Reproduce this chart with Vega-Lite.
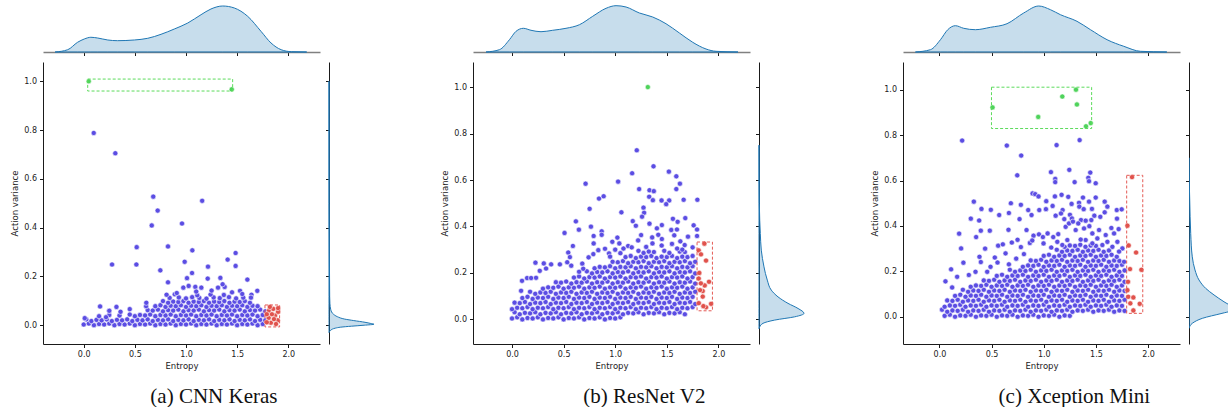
{
  "$schema": "https://vega.github.io/schema/vega-lite/v6.json",
  "background": "white",
  "padding": {"left": 10, "top": 2, "right": 0, "bottom": 0},
  "config": {
    "view": {"stroke": null},
    "font": "DejaVu Sans",
    "axis": {
      "grid": false,
      "domainColor": "#1a1a1a", "domainWidth": 1,
      "tickColor": "#1a1a1a", "tickWidth": 1, "tickSize": 3.5,
      "labelFont": "DejaVu Sans", "labelFontSize": 8, "labelColor": "#222222", "labelPadding": 3, "labelFlush": false,
      "titleFont": "DejaVu Sans", "titleFontSize": 8.5, "titleFontWeight": "normal", "titleColor": "#222222"
    },
    "title": {"font": "Liberation Serif", "fontSize": 21, "fontWeight": "normal", "color": "#111111"}
  },
  "datasets": {
    "cnn": [
      {"e":0,"v":0.003},{"e":0.05,"v":0.007},{"e":0.1,"v":0},{"e":0.15,"v":0.005},{"e":0.2,"v":0.003},{"e":0.25,"v":0.007},{"e":0.3,"v":0},{"e":0.35,"v":0.005},{"e":0.4,"v":0.003},{"e":0.45,"v":0.007},{"e":0.5,"v":0},{"e":0.55,"v":0.005},{"e":0.6,"v":0.003},{"e":0.65,"v":0.007},{"e":0.7,"v":0},{"e":0.75,"v":0.005},{"e":0.8,"v":0.003},{"e":0.85,"v":0.007},{"e":0.9,"v":0},{"e":0.95,"v":0.005},{"e":1,"v":0.003},{"e":1.05,"v":0.007},{"e":1.1,"v":0},{"e":1.15,"v":0.005},{"e":1.2,"v":0.003},{"e":1.25,"v":0.007},{"e":1.3,"v":0},{"e":1.35,"v":0.005},{"e":1.4,"v":0.003},{"e":1.45,"v":0.007},{"e":1.5,"v":0},{"e":1.55,"v":0.005},{"e":1.6,"v":0.003},{"e":1.65,"v":0.007},{"e":1.7,"v":0},{"e":1.75,"v":0.005},
      {"e":0.025,"v":0.024},{"e":0.075,"v":0.017},{"e":0.125,"v":0.022},{"e":0.175,"v":0.02},{"e":0.225,"v":0.024},{"e":0.275,"v":0.017},{"e":0.325,"v":0.022},{"e":0.375,"v":0.02},{"e":0.425,"v":0.024},{"e":0.475,"v":0.017},{"e":0.525,"v":0.022},{"e":0.575,"v":0.02},{"e":0.625,"v":0.024},{"e":0.675,"v":0.017},{"e":0.725,"v":0.022},{"e":0.775,"v":0.02},{"e":0.825,"v":0.024},{"e":0.875,"v":0.017},{"e":0.925,"v":0.022},{"e":0.975,"v":0.02},{"e":1.025,"v":0.024},{"e":1.075,"v":0.017},{"e":1.125,"v":0.022},{"e":1.175,"v":0.02},{"e":1.225,"v":0.024},{"e":1.275,"v":0.017},{"e":1.325,"v":0.022},{"e":1.375,"v":0.02},{"e":1.425,"v":0.024},{"e":1.475,"v":0.017},{"e":1.525,"v":0.022},{"e":1.575,"v":0.02},{"e":1.625,"v":0.024},{"e":1.675,"v":0.017},{"e":1.725,"v":0.022},{"e":1.775,"v":0.02},
      {"e":0.15,"v":0.037},{"e":0.25,"v":0.042},{"e":0.35,"v":0.04},{"e":0.45,"v":0.044},{"e":0.5,"v":0.037},{"e":0.55,"v":0.042},{"e":0.6,"v":0.04},{"e":0.65,"v":0.044},{"e":0.7,"v":0.037},{"e":0.75,"v":0.042},{"e":0.8,"v":0.04},{"e":0.85,"v":0.044},{"e":0.9,"v":0.037},{"e":0.95,"v":0.042},{"e":1,"v":0.04},{"e":1.05,"v":0.044},{"e":1.1,"v":0.037},{"e":1.15,"v":0.042},{"e":1.2,"v":0.04},{"e":1.25,"v":0.044},{"e":1.3,"v":0.037},{"e":1.35,"v":0.042},{"e":1.4,"v":0.04},{"e":1.45,"v":0.044},{"e":1.5,"v":0.037},{"e":1.55,"v":0.042},{"e":1.6,"v":0.04},{"e":1.65,"v":0.044},{"e":1.7,"v":0.037},{"e":1.75,"v":0.042},
      {"e":0.25,"v":0.06},{"e":0.36,"v":0.055},{"e":0.625,"v":0.062},{"e":0.675,"v":0.06},{"e":0.725,"v":0.064},{"e":0.775,"v":0.057},{"e":0.825,"v":0.062},{"e":0.875,"v":0.06},{"e":0.925,"v":0.064},{"e":0.975,"v":0.057},{"e":1.025,"v":0.062},{"e":1.075,"v":0.06},{"e":1.125,"v":0.064},{"e":1.175,"v":0.057},{"e":1.225,"v":0.062},{"e":1.275,"v":0.06},{"e":1.325,"v":0.064},{"e":1.375,"v":0.057},{"e":1.425,"v":0.062},{"e":1.475,"v":0.06},{"e":1.525,"v":0.064},{"e":1.575,"v":0.057},{"e":1.625,"v":0.062},{"e":1.675,"v":0.06},{"e":1.725,"v":0.064},{"e":1.775,"v":0.057},
      {"e":0.16,"v":0.077},{"e":0.32,"v":0.075},{"e":0.45,"v":0.066},{"e":0.61,"v":0.078},{"e":0.7,"v":0.078},{"e":0.75,"v":0.082},{"e":0.8,"v":0.075},{"e":0.85,"v":0.08},{"e":0.9,"v":0.078},{"e":0.95,"v":0.082},{"e":1,"v":0.075},{"e":1.05,"v":0.08},{"e":1.1,"v":0.078},{"e":1.15,"v":0.082},{"e":1.2,"v":0.075},{"e":1.25,"v":0.08},{"e":1.3,"v":0.078},{"e":1.35,"v":0.082},{"e":1.4,"v":0.075},{"e":1.45,"v":0.08},{"e":1.5,"v":0.078},{"e":1.55,"v":0.082},{"e":1.6,"v":0.075},{"e":1.65,"v":0.08},{"e":1.7,"v":0.078},
      {"e":0.775,"v":0.099},{"e":0.825,"v":0.092},{"e":0.875,"v":0.097},{"e":0.925,"v":0.095},{"e":0.975,"v":0.099},{"e":1.025,"v":0.092},{"e":1.075,"v":0.097},{"e":1.125,"v":0.095},{"e":1.175,"v":0.099},{"e":1.225,"v":0.092},{"e":1.275,"v":0.097},{"e":1.325,"v":0.095},{"e":1.375,"v":0.099},{"e":1.425,"v":0.092},{"e":1.475,"v":0.097},{"e":1.525,"v":0.095},{"e":1.575,"v":0.099},{"e":1.625,"v":0.092},
      {"e":0.84,"v":0.112},{"e":0.93,"v":0.114},{"e":1,"v":0.11},{"e":1.06,"v":0.115},{"e":1.13,"v":0.112},{"e":1.2,"v":0.109},{"e":1.27,"v":0.114},{"e":1.33,"v":0.111},{"e":1.42,"v":0.115},{"e":1.49,"v":0.11},{"e":1.56,"v":0.113},
      {"e":0.81,"v":0.125},{"e":0.89,"v":0.127},{"e":1.11,"v":0.123},{"e":1.24,"v":0.126},{"e":1.37,"v":0.124},{"e":1.64,"v":0.125},
      {"e":0.098,"v":0.788},{"e":0.309,"v":0.705},{"e":0.68,"v":0.527},{"e":1.158,"v":0.51},{"e":0.723,"v":0.47},{"e":0.665,"v":0.409},{"e":0.961,"v":0.417},{"e":0.518,"v":0.32},{"e":0.824,"v":0.323},{"e":1.062,"v":0.307},{"e":0.277,"v":0.249},{"e":0.515,"v":0.249},{"e":0.987,"v":0.26},{"e":1.485,"v":0.296},{"e":1.407,"v":0.269},{"e":0.749,"v":0.225},{"e":1.215,"v":0.24},{"e":1.485,"v":0.243},{"e":1.059,"v":0.214},{"e":1.01,"v":0.193},{"e":1.212,"v":0.191},{"e":0.824,"v":0.176},{"e":1.336,"v":0.194},{"e":1.6,"v":0.187},{"e":0.974,"v":0.154},{"e":1.026,"v":0.161},{"e":1.091,"v":0.157},{"e":1.15,"v":0.154},{"e":1.313,"v":0.154},{"e":1.378,"v":0.157},{"e":1.358,"v":0.168},{"e":1.528,"v":0.141},{"e":1.697,"v":0.141},{"e":1.635,"v":0.113},{"e":1.25,"v":0.142},{"e":1.45,"v":0.135},{"e":1.55,"v":0.128},{"e":1.1,"v":0.138},{"e":0.91,"v":0.132},{"e":0.612,"v":0.092},{"e":0.01,"v":0.029},{"e":0.218,"v":0.033},{"e":0.25,"v":0.059}
    ],
    "cnnFlag": [
      {"e":0.049,"v":1.0,"kind":"variance"},{"e":1.447,"v":0.967,"kind":"variance"},
      {"e":1.81,"v":0.059,"kind":"entropy"},{"e":1.853,"v":0.067,"kind":"entropy"},{"e":1.808,"v":0.03,"kind":"entropy"},{"e":1.896,"v":0.02,"kind":"entropy"},{"e":1.83,"v":0.01,"kind":"entropy"},{"e":1.87,"v":0.04,"kind":"entropy"},{"e":1.9,"v":0.055,"kind":"entropy"},{"e":1.84,"v":0.045,"kind":"entropy"},{"e":1.79,"v":0.012,"kind":"entropy"},{"e":1.88,"v":0.005,"kind":"entropy"},{"e":1.82,"v":0.075,"kind":"entropy"},{"e":1.86,"v":0.025,"kind":"entropy"},{"e":1.79,"v":0.045,"kind":"entropy"},{"e":1.9,"v":0.07,"kind":"entropy"}
    ],
    "cnnBox": [
      {"kind":"variance","e":0.039,"e2":1.456,"v":0.96,"v2":1.009},
      {"kind":"entropy","e":1.772,"e2":1.915,"v":-0.007,"v2":0.083}
    ],
    "cnnTop": [
      {"e":-0.28,"d":0},{"e":-0.156,"d":0.05},{"e":-0.06,"d":0.211},{"e":0.006,"d":0.283},{"e":0.07,"d":0.32},{"e":0.137,"d":0.304},{"e":0.235,"d":0.261},{"e":0.33,"d":0.246},{"e":0.495,"d":0.261},{"e":0.626,"d":0.298},{"e":0.756,"d":0.385},{"e":0.886,"d":0.5},{"e":1.017,"d":0.63},{"e":1.147,"d":0.811},{"e":1.244,"d":0.935},{"e":1.359,"d":1},{"e":1.472,"d":0.957},{"e":1.603,"d":0.776},{"e":1.733,"d":0.45},{"e":1.831,"d":0.196},{"e":1.93,"d":0.05},{"e":2.03,"d":0.007},{"e":2.18,"d":0}
    ],
    "cnnSide": [
      {"v":-0.03,"d":0},{"v":-0.022,"d":0.03},{"v":-0.016,"d":0.075},{"v":-0.012,"d":0.14},{"v":-0.008,"d":0.26},{"v":-0.004,"d":0.5},{"v":0,"d":0.78},{"v":0.004,"d":1},{"v":0.007,"d":0.93},{"v":0.012,"d":0.8},{"v":0.019,"d":0.55},{"v":0.025,"d":0.35},{"v":0.035,"d":0.185},{"v":0.045,"d":0.1},{"v":0.063,"d":0.04},{"v":0.09,"d":0.02},{"v":0.117,"d":0.015},{"v":0.3,"d":0.008},{"v":0.5,"d":0.003},{"v":1,"d":0}
    ],
    "res": [
      {"e":0,"v":0.004},{"e":0.05,"v":0.009},{"e":0.1,"v":0},{"e":0.15,"v":0.006},{"e":0.2,"v":0.004},{"e":0.25,"v":0.009},{"e":0.3,"v":0},{"e":0.35,"v":0.006},{"e":0.4,"v":0.004},{"e":0.45,"v":0.009},{"e":0.5,"v":0},{"e":0.55,"v":0.006},{"e":0.6,"v":0.004},{"e":0.65,"v":0.009},{"e":0.7,"v":0},{"e":0.75,"v":0.006},{"e":0.8,"v":0.004},{"e":0.85,"v":0.009},{"e":0.9,"v":0},{"e":0.95,"v":0.006},{"e":1,"v":0.004},{"e":1.05,"v":0.009},
      {"e":0.025,"v":0.031},{"e":0.075,"v":0.022},{"e":0.125,"v":0.028},{"e":0.175,"v":0.026},{"e":0.225,"v":0.031},{"e":0.275,"v":0.022},{"e":0.325,"v":0.028},{"e":0.375,"v":0.026},{"e":0.425,"v":0.031},{"e":0.475,"v":0.022},{"e":0.525,"v":0.028},{"e":0.575,"v":0.026},{"e":0.625,"v":0.031},{"e":0.675,"v":0.022},{"e":0.725,"v":0.028},{"e":0.775,"v":0.026},{"e":0.825,"v":0.031},{"e":0.875,"v":0.022},{"e":0.925,"v":0.028},{"e":0.975,"v":0.026},{"e":1.025,"v":0.031},{"e":1.075,"v":0.022},{"e":1.125,"v":0.028},{"e":1.175,"v":0.026},{"e":1.225,"v":0.031},{"e":1.275,"v":0.022},{"e":1.325,"v":0.028},{"e":1.375,"v":0.026},{"e":1.425,"v":0.031},{"e":1.475,"v":0.022},{"e":1.525,"v":0.028},{"e":1.575,"v":0.026},{"e":1.625,"v":0.031},{"e":1.675,"v":0.022},
      {"e":0,"v":0.044},{"e":0.05,"v":0.05},{"e":0.1,"v":0.048},{"e":0.15,"v":0.053},{"e":0.2,"v":0.044},{"e":0.25,"v":0.05},{"e":0.3,"v":0.048},{"e":0.35,"v":0.053},{"e":0.4,"v":0.044},{"e":0.45,"v":0.05},{"e":0.5,"v":0.048},{"e":0.55,"v":0.053},{"e":0.6,"v":0.044},{"e":0.65,"v":0.05},{"e":0.7,"v":0.048},{"e":0.75,"v":0.053},{"e":0.8,"v":0.044},{"e":0.85,"v":0.05},{"e":0.9,"v":0.048},{"e":0.95,"v":0.053},{"e":1,"v":0.044},{"e":1.05,"v":0.05},{"e":1.1,"v":0.048},{"e":1.15,"v":0.053},{"e":1.2,"v":0.044},{"e":1.25,"v":0.05},{"e":1.3,"v":0.048},{"e":1.35,"v":0.053},{"e":1.4,"v":0.044},{"e":1.45,"v":0.05},{"e":1.5,"v":0.048},{"e":1.55,"v":0.053},{"e":1.6,"v":0.044},{"e":1.65,"v":0.05},{"e":1.7,"v":0.048},{"e":1.75,"v":0.053},
      {"e":0.025,"v":0.072},{"e":0.075,"v":0.07},{"e":0.125,"v":0.075},{"e":0.175,"v":0.066},{"e":0.225,"v":0.072},{"e":0.275,"v":0.07},{"e":0.325,"v":0.075},{"e":0.375,"v":0.066},{"e":0.425,"v":0.072},{"e":0.475,"v":0.07},{"e":0.525,"v":0.075},{"e":0.575,"v":0.066},{"e":0.625,"v":0.072},{"e":0.675,"v":0.07},{"e":0.725,"v":0.075},{"e":0.775,"v":0.066},{"e":0.825,"v":0.072},{"e":0.875,"v":0.07},{"e":0.925,"v":0.075},{"e":0.975,"v":0.066},{"e":1.025,"v":0.072},{"e":1.075,"v":0.07},{"e":1.125,"v":0.075},{"e":1.175,"v":0.066},{"e":1.225,"v":0.072},{"e":1.275,"v":0.07},{"e":1.325,"v":0.075},{"e":1.375,"v":0.066},{"e":1.425,"v":0.072},{"e":1.475,"v":0.07},{"e":1.525,"v":0.075},{"e":1.575,"v":0.066},{"e":1.625,"v":0.072},{"e":1.675,"v":0.07},{"e":1.725,"v":0.075},{"e":1.775,"v":0.066},
      {"e":0.1,"v":0.092},{"e":0.15,"v":0.097},{"e":0.2,"v":0.088},{"e":0.25,"v":0.094},{"e":0.3,"v":0.092},{"e":0.35,"v":0.097},{"e":0.4,"v":0.088},{"e":0.45,"v":0.094},{"e":0.5,"v":0.092},{"e":0.55,"v":0.097},{"e":0.6,"v":0.088},{"e":0.65,"v":0.094},{"e":0.7,"v":0.092},{"e":0.75,"v":0.097},{"e":0.8,"v":0.088},{"e":0.85,"v":0.094},{"e":0.9,"v":0.092},{"e":0.95,"v":0.097},{"e":1,"v":0.088},{"e":1.05,"v":0.094},{"e":1.1,"v":0.092},{"e":1.15,"v":0.097},{"e":1.2,"v":0.088},{"e":1.25,"v":0.094},{"e":1.3,"v":0.092},{"e":1.35,"v":0.097},{"e":1.4,"v":0.088},{"e":1.45,"v":0.094},{"e":1.5,"v":0.092},{"e":1.55,"v":0.097},{"e":1.6,"v":0.088},{"e":1.65,"v":0.094},{"e":1.7,"v":0.092},{"e":1.75,"v":0.097},
      {"e":0.175,"v":0.119},{"e":0.225,"v":0.11},{"e":0.275,"v":0.116},{"e":0.325,"v":0.114},{"e":0.375,"v":0.119},{"e":0.425,"v":0.11},{"e":0.475,"v":0.116},{"e":0.525,"v":0.114},{"e":0.575,"v":0.119},{"e":0.625,"v":0.11},{"e":0.675,"v":0.116},{"e":0.725,"v":0.114},{"e":0.775,"v":0.119},{"e":0.825,"v":0.11},{"e":0.875,"v":0.116},{"e":0.925,"v":0.114},{"e":0.975,"v":0.119},{"e":1.025,"v":0.11},{"e":1.075,"v":0.116},{"e":1.125,"v":0.114},{"e":1.175,"v":0.119},{"e":1.225,"v":0.11},{"e":1.275,"v":0.116},{"e":1.325,"v":0.114},{"e":1.375,"v":0.119},{"e":1.425,"v":0.11},{"e":1.475,"v":0.116},{"e":1.525,"v":0.114},{"e":1.575,"v":0.119},{"e":1.625,"v":0.11},{"e":1.675,"v":0.116},{"e":1.725,"v":0.114},{"e":1.775,"v":0.119},
      {"e":0.3,"v":0.132},{"e":0.35,"v":0.138},{"e":0.4,"v":0.136},{"e":0.45,"v":0.141},{"e":0.5,"v":0.132},{"e":0.55,"v":0.138},{"e":0.6,"v":0.136},{"e":0.65,"v":0.141},{"e":0.7,"v":0.132},{"e":0.75,"v":0.138},{"e":0.8,"v":0.136},{"e":0.85,"v":0.141},{"e":0.9,"v":0.132},{"e":0.95,"v":0.138},{"e":1,"v":0.136},{"e":1.05,"v":0.141},{"e":1.1,"v":0.132},{"e":1.15,"v":0.138},{"e":1.2,"v":0.136},{"e":1.25,"v":0.141},{"e":1.3,"v":0.132},{"e":1.35,"v":0.138},{"e":1.4,"v":0.136},{"e":1.45,"v":0.141},{"e":1.5,"v":0.132},{"e":1.55,"v":0.138},{"e":1.6,"v":0.136},{"e":1.65,"v":0.141},{"e":1.7,"v":0.132},{"e":1.75,"v":0.138},
      {"e":0.425,"v":0.16},{"e":0.475,"v":0.158},{"e":0.525,"v":0.163},{"e":0.575,"v":0.154},{"e":0.625,"v":0.16},{"e":0.675,"v":0.158},{"e":0.725,"v":0.163},{"e":0.775,"v":0.154},{"e":0.825,"v":0.16},{"e":0.875,"v":0.158},{"e":0.925,"v":0.163},{"e":0.975,"v":0.154},{"e":1.025,"v":0.16},{"e":1.075,"v":0.158},{"e":1.125,"v":0.163},{"e":1.175,"v":0.154},{"e":1.225,"v":0.16},{"e":1.275,"v":0.158},{"e":1.325,"v":0.163},{"e":1.375,"v":0.154},{"e":1.425,"v":0.16},{"e":1.475,"v":0.158},{"e":1.525,"v":0.163},{"e":1.575,"v":0.154},{"e":1.625,"v":0.16},{"e":1.675,"v":0.158},{"e":1.725,"v":0.163},{"e":1.775,"v":0.154},
      {"e":0.6,"v":0.18},{"e":0.65,"v":0.185},{"e":0.7,"v":0.176},{"e":0.75,"v":0.182},{"e":0.8,"v":0.18},{"e":0.85,"v":0.185},{"e":0.9,"v":0.176},{"e":0.95,"v":0.182},{"e":1,"v":0.18},{"e":1.05,"v":0.185},{"e":1.1,"v":0.176},{"e":1.15,"v":0.182},{"e":1.2,"v":0.18},{"e":1.25,"v":0.185},{"e":1.3,"v":0.176},{"e":1.35,"v":0.182},{"e":1.4,"v":0.18},{"e":1.45,"v":0.185},{"e":1.5,"v":0.176},{"e":1.55,"v":0.182},{"e":1.6,"v":0.18},{"e":1.65,"v":0.185},{"e":1.7,"v":0.176},{"e":1.75,"v":0.182},
      {"e":0.725,"v":0.207},{"e":0.775,"v":0.198},{"e":0.825,"v":0.204},{"e":0.875,"v":0.202},{"e":0.925,"v":0.207},{"e":0.975,"v":0.198},{"e":1.025,"v":0.204},{"e":1.075,"v":0.202},{"e":1.125,"v":0.207},{"e":1.175,"v":0.198},{"e":1.225,"v":0.204},{"e":1.275,"v":0.202},{"e":1.325,"v":0.207},{"e":1.375,"v":0.198},{"e":1.425,"v":0.204},{"e":1.475,"v":0.202},{"e":1.525,"v":0.207},{"e":1.575,"v":0.198},{"e":1.625,"v":0.204},{"e":1.675,"v":0.202},{"e":1.725,"v":0.207},{"e":1.775,"v":0.198},
      {"e":0.8,"v":0.22},{"e":0.85,"v":0.226},{"e":0.9,"v":0.224},{"e":0.95,"v":0.229},{"e":1,"v":0.22},{"e":1.05,"v":0.226},{"e":1.1,"v":0.224},{"e":1.15,"v":0.229},{"e":1.2,"v":0.22},{"e":1.25,"v":0.226},{"e":1.3,"v":0.224},{"e":1.35,"v":0.229},{"e":1.4,"v":0.22},{"e":1.45,"v":0.226},{"e":1.5,"v":0.224},{"e":1.55,"v":0.229},{"e":1.6,"v":0.22},{"e":1.65,"v":0.226},{"e":1.7,"v":0.224},{"e":1.75,"v":0.229},
      {"e":0.975,"v":0.248},{"e":1.025,"v":0.246},{"e":1.075,"v":0.251},{"e":1.125,"v":0.242},{"e":1.175,"v":0.248},{"e":1.225,"v":0.246},{"e":1.275,"v":0.251},{"e":1.325,"v":0.242},{"e":1.375,"v":0.248},{"e":1.425,"v":0.246},{"e":1.475,"v":0.251},{"e":1.525,"v":0.242},{"e":1.575,"v":0.248},{"e":1.625,"v":0.246},{"e":1.675,"v":0.251},{"e":1.725,"v":0.242},{"e":1.775,"v":0.248},
      {"e":1.1,"v":0.268},{"e":1.15,"v":0.273},{"e":1.2,"v":0.264},{"e":1.25,"v":0.27},{"e":1.3,"v":0.268},{"e":1.35,"v":0.273},{"e":1.4,"v":0.264},{"e":1.45,"v":0.27},{"e":1.5,"v":0.268},{"e":1.55,"v":0.273},{"e":1.6,"v":0.264},{"e":1.65,"v":0.27},{"e":1.7,"v":0.268},{"e":1.75,"v":0.273},
      {"e":1.225,"v":0.295},{"e":1.275,"v":0.286},{"e":1.325,"v":0.292},{"e":1.375,"v":0.29},{"e":1.475,"v":0.295},{"e":1.525,"v":0.286},{"e":1.625,"v":0.292},{"e":1.675,"v":0.29},
      {"e":1.209,"v":0.728},{"e":1.371,"v":0.659},{"e":1.52,"v":0.636},{"e":1.592,"v":0.616},{"e":1.164,"v":0.629},{"e":0.713,"v":0.584},{"e":1.028,"v":0.593},{"e":1.627,"v":0.584},{"e":1.232,"v":0.561},{"e":1.332,"v":0.556},{"e":1.374,"v":0.552},{"e":1.592,"v":0.561},{"e":1.329,"v":0.528},{"e":0.843,"v":0.52},{"e":0.888,"v":0.53},{"e":1.365,"v":0.513},{"e":1.449,"v":0.512},{"e":1.523,"v":0.512},{"e":1.494,"v":0.496},{"e":1.663,"v":0.515},{"e":1.796,"v":0.515},{"e":1.274,"v":0.481},{"e":0.752,"v":0.476},{"e":1.06,"v":0.461},{"e":1.28,"v":0.459},{"e":1.26,"v":0.442},{"e":0.619,"v":0.422},{"e":0.509,"v":0.372},{"e":0.648,"v":0.386},{"e":0.765,"v":0.399},{"e":0.869,"v":0.379},{"e":0.869,"v":0.364},{"e":0.791,"v":0.359},{"e":0.791,"v":0.327},{"e":0.59,"v":0.316},{"e":1.17,"v":0.423},{"e":1.2,"v":0.403},{"e":1.332,"v":0.412},{"e":1.452,"v":0.406},{"e":1.559,"v":0.433},{"e":1.679,"v":0.436},{"e":1.605,"v":0.42},{"e":1.543,"v":0.385},{"e":1.598,"v":0.387},{"e":1.76,"v":0.405},{"e":1.793,"v":0.387},{"e":1.793,"v":0.359},{"e":1.404,"v":0.392},{"e":1.417,"v":0.364},{"e":1.358,"v":0.353},{"e":1.361,"v":0.327},{"e":1.452,"v":0.346},{"e":1.251,"v":0.363},{"e":1.222,"v":0.34},{"e":1.572,"v":0.362},{"e":1.631,"v":0.336},{"e":1.705,"v":0.356},{"e":1.673,"v":0.32},{"e":0.972,"v":0.334},{"e":1.021,"v":0.352},{"e":1.04,"v":0.327},{"e":1.125,"v":0.316},{"e":1.08,"v":0.305},{"e":1.16,"v":0.31},{"e":0.545,"v":0.288},{"e":0.535,"v":0.246},{"e":0.574,"v":0.231},{"e":0.561,"v":0.268},{"e":0.681,"v":0.24},{"e":0.836,"v":0.298},{"e":0.742,"v":0.267},{"e":0.788,"v":0.281},{"e":0.901,"v":0.304},{"e":0.94,"v":0.284},{"e":0.227,"v":0.244},{"e":0.308,"v":0.241},{"e":0.379,"v":0.237},{"e":0.464,"v":0.237},{"e":0.269,"v":0.209},{"e":0.33,"v":0.219},{"e":0.097,"v":0.166},{"e":0.146,"v":0.178},{"e":0.185,"v":0.178},{"e":0.233,"v":0.179},{"e":0.088,"v":0.123},{"e":0.65,"v":0.205},{"e":0.69,"v":0.218},{"e":1,"v":0.3},{"e":1.3,"v":0.312},{"e":1.45,"v":0.318},{"e":1.55,"v":0.325},{"e":1.6,"v":0.305},{"e":1.75,"v":0.31},{"e":1.65,"v":0.3},{"e":0.95,"v":0.27},{"e":1.05,"v":0.285}
    ],
    "resFlag": [
      {"e":1.316,"v":1.0,"kind":"variance"},
      {"e":1.864,"v":0.326,"kind":"entropy"},{"e":1.809,"v":0.297,"kind":"entropy"},{"e":1.831,"v":0.28,"kind":"entropy"},{"e":1.88,"v":0.253,"kind":"entropy"},{"e":1.815,"v":0.2,"kind":"entropy"},{"e":1.809,"v":0.176,"kind":"entropy"},{"e":1.909,"v":0.162,"kind":"entropy"},{"e":1.867,"v":0.146,"kind":"entropy"},{"e":1.848,"v":0.122,"kind":"entropy"},{"e":1.848,"v":0.098,"kind":"entropy"},{"e":1.929,"v":0.067,"kind":"entropy"},{"e":1.88,"v":0.052,"kind":"entropy"},{"e":1.854,"v":0.057,"kind":"entropy"},{"e":1.822,"v":0.126,"kind":"entropy"},{"e":1.81,"v":0.07,"kind":"entropy"},{"e":1.83,"v":0.155,"kind":"entropy"}
    ],
    "resBox": [
      {"kind":"entropy","e":1.793,"e2":1.942,"v":0.037,"v2":0.333}
    ],
    "resTop": [
      {"e":-0.252,"d":0},{"e":-0.122,"d":0.05},{"e":-0.025,"d":0.267},{"e":0.039,"d":0.45},{"e":0.11,"d":0.515},{"e":0.184,"d":0.472},{"e":0.281,"d":0.441},{"e":0.394,"d":0.472},{"e":0.523,"d":0.515},{"e":0.653,"d":0.593},{"e":0.782,"d":0.776},{"e":0.911,"d":0.95},{"e":1.008,"d":1.007},{"e":1.105,"d":0.978},{"e":1.234,"d":0.848},{"e":1.363,"d":0.761},{"e":1.492,"d":0.615},{"e":1.622,"d":0.413},{"e":1.751,"d":0.211},{"e":1.88,"d":0.065},{"e":1.977,"d":0.015},{"e":2.19,"d":0}
    ],
    "resSide": [
      {"v":-0.04,"d":0},{"v":-0.032,"d":0.016},{"v":-0.017,"d":0.089},{"v":-0.003,"d":0.349},{"v":0.011,"d":0.793},{"v":0.026,"d":1},{"v":0.047,"d":0.867},{"v":0.069,"d":0.644},{"v":0.097,"d":0.422},{"v":0.126,"d":0.273},{"v":0.169,"d":0.184},{"v":0.226,"d":0.111},{"v":0.298,"d":0.051},{"v":0.37,"d":0.029},{"v":0.427,"d":0.016},{"v":0.5,"d":0.007},{"v":0.6,"d":0.003},{"v":0.75,"d":0}
    ],
    "xcp": [
      {"e":0.05,"v":0.004},{"e":0.1,"v":0.009},{"e":0.15,"v":0},{"e":0.2,"v":0.006},{"e":0.25,"v":0.004},{"e":0.3,"v":0.009},{"e":0.35,"v":0},{"e":0.4,"v":0.006},{"e":0.45,"v":0.004},{"e":0.5,"v":0.009},{"e":0.55,"v":0},{"e":0.6,"v":0.006},{"e":0.65,"v":0.004},{"e":0.7,"v":0.009},{"e":0.75,"v":0},{"e":0.8,"v":0.006},{"e":0.85,"v":0.004},{"e":0.9,"v":0.009},{"e":0.95,"v":0},{"e":1,"v":0.006},{"e":1.05,"v":0.004},{"e":1.1,"v":0.009},{"e":1.15,"v":0},{"e":1.2,"v":0.006},{"e":1.25,"v":0.004},
      {"e":0.025,"v":0.031},{"e":0.075,"v":0.022},{"e":0.125,"v":0.028},{"e":0.175,"v":0.026},{"e":0.225,"v":0.031},{"e":0.275,"v":0.022},{"e":0.325,"v":0.028},{"e":0.375,"v":0.026},{"e":0.425,"v":0.031},{"e":0.475,"v":0.022},{"e":0.525,"v":0.028},{"e":0.575,"v":0.026},{"e":0.625,"v":0.031},{"e":0.675,"v":0.022},{"e":0.725,"v":0.028},{"e":0.775,"v":0.026},{"e":0.825,"v":0.031},{"e":0.875,"v":0.022},{"e":0.925,"v":0.028},{"e":0.975,"v":0.026},{"e":1.025,"v":0.031},{"e":1.075,"v":0.022},{"e":1.125,"v":0.028},{"e":1.175,"v":0.026},{"e":1.225,"v":0.031},{"e":1.275,"v":0.022},{"e":1.325,"v":0.028},{"e":1.375,"v":0.026},{"e":1.425,"v":0.031},{"e":1.475,"v":0.022},{"e":1.525,"v":0.028},{"e":1.575,"v":0.026},{"e":1.625,"v":0.031},{"e":1.675,"v":0.022},{"e":1.725,"v":0.028},{"e":1.775,"v":0.026},
      {"e":0.05,"v":0.044},{"e":0.1,"v":0.05},{"e":0.15,"v":0.048},{"e":0.2,"v":0.053},{"e":0.25,"v":0.044},{"e":0.3,"v":0.05},{"e":0.35,"v":0.048},{"e":0.4,"v":0.053},{"e":0.45,"v":0.044},{"e":0.5,"v":0.05},{"e":0.55,"v":0.048},{"e":0.6,"v":0.053},{"e":0.65,"v":0.044},{"e":0.7,"v":0.05},{"e":0.75,"v":0.048},{"e":0.8,"v":0.053},{"e":0.85,"v":0.044},{"e":0.9,"v":0.05},{"e":0.95,"v":0.048},{"e":1,"v":0.053},{"e":1.05,"v":0.044},{"e":1.1,"v":0.05},{"e":1.15,"v":0.048},{"e":1.2,"v":0.053},{"e":1.25,"v":0.044},{"e":1.3,"v":0.05},{"e":1.35,"v":0.048},{"e":1.4,"v":0.053},{"e":1.45,"v":0.044},{"e":1.5,"v":0.05},{"e":1.55,"v":0.048},{"e":1.6,"v":0.053},{"e":1.65,"v":0.044},{"e":1.7,"v":0.05},{"e":1.75,"v":0.048},
      {"e":0.075,"v":0.072},{"e":0.125,"v":0.07},{"e":0.175,"v":0.075},{"e":0.225,"v":0.066},{"e":0.275,"v":0.072},{"e":0.325,"v":0.07},{"e":0.375,"v":0.075},{"e":0.425,"v":0.066},{"e":0.475,"v":0.072},{"e":0.525,"v":0.07},{"e":0.575,"v":0.075},{"e":0.625,"v":0.066},{"e":0.675,"v":0.072},{"e":0.725,"v":0.07},{"e":0.775,"v":0.075},{"e":0.825,"v":0.066},{"e":0.875,"v":0.072},{"e":0.925,"v":0.07},{"e":0.975,"v":0.075},{"e":1.025,"v":0.066},{"e":1.075,"v":0.072},{"e":1.125,"v":0.07},{"e":1.175,"v":0.075},{"e":1.225,"v":0.066},{"e":1.275,"v":0.072},{"e":1.325,"v":0.07},{"e":1.375,"v":0.075},{"e":1.425,"v":0.066},{"e":1.475,"v":0.072},{"e":1.525,"v":0.07},{"e":1.575,"v":0.075},{"e":1.625,"v":0.066},{"e":1.675,"v":0.072},{"e":1.725,"v":0.07},{"e":1.775,"v":0.075},
      {"e":0.15,"v":0.092},{"e":0.2,"v":0.097},{"e":0.25,"v":0.088},{"e":0.3,"v":0.094},{"e":0.35,"v":0.092},{"e":0.4,"v":0.097},{"e":0.45,"v":0.088},{"e":0.5,"v":0.094},{"e":0.55,"v":0.092},{"e":0.6,"v":0.097},{"e":0.65,"v":0.088},{"e":0.7,"v":0.094},{"e":0.75,"v":0.092},{"e":0.8,"v":0.097},{"e":0.85,"v":0.088},{"e":0.9,"v":0.094},{"e":0.95,"v":0.092},{"e":1,"v":0.097},{"e":1.05,"v":0.088},{"e":1.1,"v":0.094},{"e":1.15,"v":0.092},{"e":1.2,"v":0.097},{"e":1.25,"v":0.088},{"e":1.3,"v":0.094},{"e":1.35,"v":0.092},{"e":1.4,"v":0.097},{"e":1.45,"v":0.088},{"e":1.5,"v":0.094},{"e":1.55,"v":0.092},{"e":1.6,"v":0.097},{"e":1.65,"v":0.088},{"e":1.7,"v":0.094},{"e":1.75,"v":0.092},
      {"e":0.225,"v":0.119},{"e":0.275,"v":0.11},{"e":0.325,"v":0.116},{"e":0.375,"v":0.114},{"e":0.425,"v":0.119},{"e":0.475,"v":0.11},{"e":0.525,"v":0.116},{"e":0.575,"v":0.114},{"e":0.625,"v":0.119},{"e":0.675,"v":0.11},{"e":0.725,"v":0.116},{"e":0.775,"v":0.114},{"e":0.825,"v":0.119},{"e":0.875,"v":0.11},{"e":0.925,"v":0.116},{"e":0.975,"v":0.114},{"e":1.025,"v":0.119},{"e":1.075,"v":0.11},{"e":1.125,"v":0.116},{"e":1.175,"v":0.114},{"e":1.225,"v":0.119},{"e":1.275,"v":0.11},{"e":1.325,"v":0.116},{"e":1.375,"v":0.114},{"e":1.425,"v":0.119},{"e":1.475,"v":0.11},{"e":1.525,"v":0.116},{"e":1.575,"v":0.114},{"e":1.625,"v":0.119},{"e":1.675,"v":0.11},{"e":1.725,"v":0.116},{"e":1.775,"v":0.114},
      {"e":0.3,"v":0.132},{"e":0.35,"v":0.138},{"e":0.4,"v":0.136},{"e":0.45,"v":0.141},{"e":0.5,"v":0.132},{"e":0.55,"v":0.138},{"e":0.6,"v":0.136},{"e":0.65,"v":0.141},{"e":0.7,"v":0.132},{"e":0.75,"v":0.138},{"e":0.8,"v":0.136},{"e":0.85,"v":0.141},{"e":0.9,"v":0.132},{"e":0.95,"v":0.138},{"e":1,"v":0.136},{"e":1.05,"v":0.141},{"e":1.1,"v":0.132},{"e":1.15,"v":0.138},{"e":1.2,"v":0.136},{"e":1.25,"v":0.141},{"e":1.3,"v":0.132},{"e":1.35,"v":0.138},{"e":1.4,"v":0.136},{"e":1.45,"v":0.141},{"e":1.5,"v":0.132},{"e":1.55,"v":0.138},{"e":1.6,"v":0.136},{"e":1.65,"v":0.141},{"e":1.7,"v":0.132},{"e":1.75,"v":0.138},
      {"e":0.425,"v":0.16},{"e":0.475,"v":0.158},{"e":0.525,"v":0.163},{"e":0.575,"v":0.154},{"e":0.625,"v":0.16},{"e":0.675,"v":0.158},{"e":0.725,"v":0.163},{"e":0.775,"v":0.154},{"e":0.825,"v":0.16},{"e":0.875,"v":0.158},{"e":0.925,"v":0.163},{"e":0.975,"v":0.154},{"e":1.025,"v":0.16},{"e":1.075,"v":0.158},{"e":1.125,"v":0.163},{"e":1.175,"v":0.154},{"e":1.225,"v":0.16},{"e":1.275,"v":0.158},{"e":1.325,"v":0.163},{"e":1.375,"v":0.154},{"e":1.425,"v":0.16},{"e":1.475,"v":0.158},{"e":1.525,"v":0.163},{"e":1.575,"v":0.154},{"e":1.625,"v":0.16},{"e":1.675,"v":0.158},{"e":1.725,"v":0.163},{"e":1.775,"v":0.154},
      {"e":0.55,"v":0.18},{"e":0.6,"v":0.185},{"e":0.65,"v":0.176},{"e":0.7,"v":0.182},{"e":0.75,"v":0.18},{"e":0.8,"v":0.185},{"e":0.85,"v":0.176},{"e":0.9,"v":0.182},{"e":0.95,"v":0.18},{"e":1,"v":0.185},{"e":1.05,"v":0.176},{"e":1.1,"v":0.182},{"e":1.15,"v":0.18},{"e":1.2,"v":0.185},{"e":1.25,"v":0.176},{"e":1.3,"v":0.182},{"e":1.35,"v":0.18},{"e":1.4,"v":0.185},{"e":1.45,"v":0.176},{"e":1.5,"v":0.182},{"e":1.55,"v":0.18},{"e":1.6,"v":0.185},{"e":1.65,"v":0.176},{"e":1.7,"v":0.182},{"e":1.75,"v":0.18},
      {"e":0.675,"v":0.207},{"e":0.725,"v":0.198},{"e":0.775,"v":0.204},{"e":0.825,"v":0.202},{"e":0.875,"v":0.207},{"e":0.925,"v":0.198},{"e":0.975,"v":0.204},{"e":1.025,"v":0.202},{"e":1.075,"v":0.207},{"e":1.125,"v":0.198},{"e":1.175,"v":0.204},{"e":1.225,"v":0.202},{"e":1.275,"v":0.207},{"e":1.325,"v":0.198},{"e":1.375,"v":0.204},{"e":1.425,"v":0.202},{"e":1.475,"v":0.207},{"e":1.525,"v":0.198},{"e":1.575,"v":0.204},{"e":1.625,"v":0.202},{"e":1.675,"v":0.207},{"e":1.725,"v":0.198},{"e":1.775,"v":0.204},
      {"e":0.8,"v":0.22},{"e":0.85,"v":0.226},{"e":0.9,"v":0.224},{"e":0.95,"v":0.229},{"e":1,"v":0.22},{"e":1.05,"v":0.226},{"e":1.1,"v":0.224},{"e":1.15,"v":0.229},{"e":1.2,"v":0.22},{"e":1.25,"v":0.226},{"e":1.3,"v":0.224},{"e":1.35,"v":0.229},{"e":1.4,"v":0.22},{"e":1.45,"v":0.226},{"e":1.5,"v":0.224},{"e":1.55,"v":0.229},{"e":1.6,"v":0.22},{"e":1.65,"v":0.226},{"e":1.7,"v":0.224},{"e":1.75,"v":0.229},
      {"e":0.875,"v":0.248},{"e":0.925,"v":0.246},{"e":0.975,"v":0.251},{"e":1.025,"v":0.242},{"e":1.075,"v":0.248},{"e":1.125,"v":0.246},{"e":1.175,"v":0.251},{"e":1.225,"v":0.242},{"e":1.275,"v":0.248},{"e":1.325,"v":0.246},{"e":1.375,"v":0.251},{"e":1.425,"v":0.242},{"e":1.475,"v":0.248},{"e":1.525,"v":0.246},{"e":1.575,"v":0.251},{"e":1.625,"v":0.242},{"e":1.675,"v":0.248},{"e":1.725,"v":0.246},
      {"e":1,"v":0.268},{"e":1.05,"v":0.273},{"e":1.1,"v":0.264},{"e":1.15,"v":0.27},{"e":1.2,"v":0.268},{"e":1.25,"v":0.273},{"e":1.3,"v":0.264},{"e":1.35,"v":0.27},{"e":1.4,"v":0.268},{"e":1.45,"v":0.273},{"e":1.5,"v":0.264},{"e":1.55,"v":0.27},{"e":1.6,"v":0.268},{"e":1.65,"v":0.273},{"e":1.7,"v":0.264},
      {"e":1.125,"v":0.295},{"e":1.175,"v":0.286},{"e":1.225,"v":0.292},{"e":1.275,"v":0.29},{"e":1.325,"v":0.295},{"e":1.375,"v":0.286},{"e":1.425,"v":0.292},{"e":1.475,"v":0.29},{"e":1.525,"v":0.295},{"e":1.575,"v":0.286},{"e":1.625,"v":0.292},
      {"e":1.2,"v":0.308},{"e":1.25,"v":0.314},{"e":1.3,"v":0.312},{"e":1.35,"v":0.317},{"e":1.4,"v":0.308},{"e":1.45,"v":0.314},{"e":1.5,"v":0.312},
      {"e":0.218,"v":0.776},{"e":0.646,"v":0.754},{"e":1.123,"v":0.756},{"e":1.344,"v":0.778},{"e":0.784,"v":0.71},{"e":0.746,"v":0.623},{"e":1.069,"v":0.637},{"e":1.245,"v":0.647},{"e":1.446,"v":0.635},{"e":1.11,"v":0.607},{"e":1.11,"v":0.593},{"e":1.296,"v":0.593},{"e":1.427,"v":0.612},{"e":1.434,"v":0.597},{"e":1.498,"v":0.588},{"e":0.33,"v":0.507},{"e":0.403,"v":0.475},{"e":0.493,"v":0.471},{"e":0.685,"v":0.5},{"e":0.781,"v":0.493},{"e":0.893,"v":0.543},{"e":0.918,"v":0.54},{"e":0.95,"v":0.53},{"e":1.024,"v":0.509},{"e":1.107,"v":0.53},{"e":1.171,"v":0.537},{"e":1.235,"v":0.528},{"e":1.085,"v":0.488},{"e":1.267,"v":0.497},{"e":1.338,"v":0.502},{"e":1.341,"v":0.485},{"e":1.376,"v":0.525},{"e":1.434,"v":0.507},{"e":1.498,"v":0.525},{"e":1.584,"v":0.507},{"e":1.61,"v":0.485},{"e":1.462,"v":0.475},{"e":0.851,"v":0.47},{"e":0.957,"v":0.47},{"e":1.021,"v":0.474},{"e":1.181,"v":0.47},{"e":1.383,"v":0.474},{"e":1.7,"v":0.47},{"e":1.747,"v":0.473},
      {"e":0.301,"v":0.432},{"e":0.381,"v":0.424},{"e":0.573,"v":0.448},{"e":0.666,"v":0.457},{"e":0.768,"v":0.43},{"e":0.883,"v":0.448},{"e":1.114,"v":0.445},{"e":1.165,"v":0.455},{"e":1.197,"v":0.43},{"e":1.251,"v":0.449},{"e":1.27,"v":0.433},{"e":1.357,"v":0.426},{"e":1.402,"v":0.423},{"e":1.456,"v":0.426},{"e":1.485,"v":0.445},{"e":1.542,"v":0.44},{"e":1.584,"v":0.46},{"e":1.702,"v":0.432},
      {"e":0.189,"v":0.366},{"e":0.397,"v":0.379},{"e":0.483,"v":0.379},{"e":0.662,"v":0.383},{"e":0.835,"v":0.382},{"e":0.902,"v":0.357},{"e":0.954,"v":0.363},{"e":0.992,"v":0.351},{"e":1.037,"v":0.367},{"e":1.091,"v":0.351},{"e":1.139,"v":0.364},{"e":1.21,"v":0.396},{"e":1.242,"v":0.411},{"e":1.28,"v":0.419},{"e":1.331,"v":0.411},{"e":1.306,"v":0.382},{"e":1.386,"v":0.389},{"e":1.437,"v":0.399},{"e":1.53,"v":0.382},{"e":1.648,"v":0.391},{"e":1.718,"v":0.386},{"e":1.466,"v":0.367},{"e":1.594,"v":0.36},{"e":1.674,"v":0.367},
      {"e":0.208,"v":0.301},{"e":0.352,"v":0.351},{"e":0.438,"v":0.3},{"e":0.563,"v":0.313},{"e":0.608,"v":0.319},{"e":0.694,"v":0.327},{"e":0.749,"v":0.339},{"e":0.781,"v":0.307},{"e":0.867,"v":0.325},{"e":0.89,"v":0.336},{"e":0.998,"v":0.323},{"e":1.072,"v":0.305},{"e":1.13,"v":0.33},{"e":1.178,"v":0.316},{"e":1.226,"v":0.338},{"e":1.402,"v":0.338},{"e":1.466,"v":0.323},{"e":1.514,"v":0.345},{"e":1.562,"v":0.316},{"e":1.61,"v":0.33},{"e":1.658,"v":0.308},{"e":1.706,"v":0.33},{"e":1.754,"v":0.301},{"e":1.354,"v":0.34},
      {"e":0.384,"v":0.264},{"e":0.397,"v":0.241},{"e":0.531,"v":0.261},{"e":0.557,"v":0.239},{"e":0.81,"v":0.276},{"e":0.736,"v":0.256},{"e":0.23,"v":0.238},{"e":0.634,"v":0.279},{"e":1.722,"v":0.287},{"e":1.77,"v":0.242},{"e":0.666,"v":0.231},
      {"e":0.112,"v":0.209},{"e":0.058,"v":0.156},{"e":0.17,"v":0.176},{"e":0.282,"v":0.184},{"e":0.346,"v":0.198},{"e":0.458,"v":0.198},{"e":0.49,"v":0.22},{"e":0.122,"v":0.129}
    ],
    "xcpFlag": [
      {"e":0.509,"v":0.922,"kind":"variance"},{"e":0.947,"v":0.88,"kind":"variance"},{"e":1.178,"v":0.97,"kind":"variance"},{"e":1.309,"v":1.0,"kind":"variance"},{"e":1.318,"v":0.935,"kind":"variance"},{"e":1.405,"v":0.839,"kind":"variance"},{"e":1.45,"v":0.853,"kind":"variance"},
      {"e":1.846,"v":0.615,"kind":"entropy"},{"e":1.802,"v":0.401,"kind":"entropy"},{"e":1.814,"v":0.314,"kind":"entropy"},{"e":1.885,"v":0.283,"kind":"entropy"},{"e":1.827,"v":0.21,"kind":"entropy"},{"e":1.936,"v":0.207,"kind":"entropy"},{"e":1.808,"v":0.154,"kind":"entropy"},{"e":1.81,"v":0.088,"kind":"entropy"},{"e":1.859,"v":0.085,"kind":"entropy"},{"e":1.83,"v":0.059,"kind":"entropy"},{"e":1.92,"v":0.057,"kind":"entropy"},{"e":1.859,"v":0.028,"kind":"entropy"},{"e":1.802,"v":0.117,"kind":"entropy"}
    ],
    "xcpBox": [
      {"kind":"variance","e":0.499,"e2":1.459,"v":0.829,"v2":1.011},
      {"kind":"entropy","e":1.795,"e2":1.949,"v":0.015,"v2":0.623}
    ],
    "xcpTop": [
      {"e":-0.23,"d":0},{"e":-0.086,"d":0.05},{"e":0.01,"d":0.267},{"e":0.08,"d":0.485},{"e":0.153,"d":0.572},{"e":0.233,"d":0.515},{"e":0.345,"d":0.485},{"e":0.489,"d":0.537},{"e":0.648,"d":0.615},{"e":0.808,"d":0.848},{"e":0.952,"d":1},{"e":1.064,"d":0.92},{"e":1.16,"d":0.811},{"e":1.319,"d":0.667},{"e":1.448,"d":0.485},{"e":1.607,"d":0.267},{"e":1.767,"d":0.124},{"e":1.927,"d":0.015},{"e":2.18,"d":0}
    ],
    "xcpSide": [
      {"v":-0.051,"d":0},{"v":-0.029,"d":0.073},{"v":-0.007,"d":0.296},{"v":0.015,"d":0.733},{"v":0.025,"d":0.93},{"v":0.035,"d":1},{"v":0.044,"d":0.956},{"v":0.066,"d":0.778},{"v":0.096,"d":0.556},{"v":0.125,"d":0.371},{"v":0.162,"d":0.222},{"v":0.206,"d":0.133},{"v":0.264,"d":0.073},{"v":0.367,"d":0.038},{"v":0.514,"d":0.016},{"v":0.6,"d":0.005},{"v":0.7,"d":0}
    ]
  },
  "bounds": "full",
  "spacing": 63,
  "hconcat": [
    {
      "title": {"text": "(a) CNN Keras", "orient": "bottom", "anchor": "middle", "offset": 16, "dx": 20.5},
      "columns": 2, "align": "each", "bounds": "full",
      "spacing": {"row": 6, "column": 5},
      "concat": [
        {
          "width": 277, "height": 50,
          "data": {"name": "cnnTop"},
          "mark": {"type": "area", "interpolate": "monotone", "fill": "#1f77b4", "fillOpacity": 0.25, "stroke": "#1f77b4", "strokeWidth": 1},
          "encoding": {
            "x": {"field": "e", "type": "quantitative", "scale": {"domain": [-0.398, 2.31], "nice": false, "zero": false}, "axis": {"values": [0, 0.5, 1, 1.5, 2], "labels": false, "title": null, "domainColor": "#808080", "domainWidth": 1.5}},
            "y": {"field": "d", "type": "quantitative", "scale": {"domain": [0, 1.087], "nice": false}, "axis": null}
          }
        },
        {"width": 1, "height": 1, "data": {"values": []}, "mark": "point"},
        {
          "width": 277, "height": 282,
          "layer": [
            {
              "data": {"name": "cnn"},
              "mark": {"type": "point", "filled": true, "size": 27, "fill": "#5b4de3", "stroke": "white", "strokeWidth": 0.6, "opacity": 1},
              "encoding": {
                "x": {"field": "e", "type": "quantitative", "scale": {"domain": [-0.398, 2.31], "nice": false, "zero": false}, "axis": {"values": [0, 0.5, 1, 1.5, 2], "format": ".1f", "title": "Entropy", "titlePadding": 3}},
                "y": {"field": "v", "type": "quantitative", "scale": {"domain": [-0.077, 1.079], "nice": false, "zero": false}, "axis": {"values": [0, 0.2, 0.4, 0.6, 0.8, 1], "format": ".1f", "title": "Action variance", "titlePadding": 4}}
              }
            },
            {
              "data": {"name": "cnnFlag"},
              "mark": {"type": "point", "filled": true, "size": 27, "stroke": "white", "strokeWidth": 0.6, "opacity": 1},
              "encoding": {
                "x": {"field": "e", "type": "quantitative", "scale": {"domain": [-0.398, 2.31], "nice": false, "zero": false}},
                "y": {"field": "v", "type": "quantitative", "scale": {"domain": [-0.077, 1.079], "nice": false, "zero": false}},
                "fill": {"field": "kind", "type": "nominal", "scale": {"domain": ["variance", "entropy"], "range": ["#4fd35b", "#e0524c"]}, "legend": null}
              }
            },
            {
              "data": {"name": "cnnBox"},
              "mark": {"type": "rect", "fillOpacity": 0, "strokeWidth": 1, "strokeDash": [3, 2]},
              "encoding": {
                "x": {"field": "e", "type": "quantitative", "scale": {"domain": [-0.398, 2.31], "nice": false, "zero": false}},
                "x2": {"field": "e2"},
                "y": {"field": "v", "type": "quantitative", "scale": {"domain": [-0.077, 1.079], "nice": false, "zero": false}},
                "y2": {"field": "v2"},
                "stroke": {"field": "kind", "type": "nominal", "scale": {"domain": ["variance", "entropy"], "range": ["#5cdb5c", "#e45a55"]}, "legend": null}
              }
            }
          ]
        },
        {
          "width": 47, "height": 282,
          "data": {"name": "cnnSide"},
          "mark": {"type": "area", "orient": "horizontal", "interpolate": "monotone", "fill": "#1f77b4", "fillOpacity": 0.25, "stroke": "#1f77b4", "strokeWidth": 1},
          "encoding": {
            "y": {"field": "v", "type": "quantitative", "scale": {"domain": [-0.077, 1.079], "nice": false, "zero": false}, "axis": {"values": [0, 0.2, 0.4, 0.6, 0.8, 1], "labels": false, "title": null}},
            "x": {"field": "d", "type": "quantitative", "scale": {"domain": [0, 1.044], "nice": false}, "axis": null}
          }
        }
      ]
    },
    {
      "title": {"text": "(b) ResNet V2", "orient": "bottom", "anchor": "middle", "offset": 16, "dx": 21},
      "columns": 2, "align": "each", "bounds": "full",
      "spacing": {"row": 6, "column": 5},
      "concat": [
        {
          "width": 277, "height": 50,
          "data": {"name": "resTop"},
          "mark": {"type": "area", "interpolate": "monotone", "fill": "#1f77b4", "fillOpacity": 0.25, "stroke": "#1f77b4", "strokeWidth": 1},
          "encoding": {
            "x": {"field": "e", "type": "quantitative", "scale": {"domain": [-0.378, 2.306], "nice": false, "zero": false}, "axis": {"values": [0, 0.5, 1, 1.5, 2], "labels": false, "title": null, "domainColor": "#808080", "domainWidth": 1.5}},
            "y": {"field": "d", "type": "quantitative", "scale": {"domain": [0, 1.087], "nice": false}, "axis": null}
          }
        },
        {"width": 1, "height": 1, "data": {"values": []}, "mark": "point"},
        {
          "width": 277, "height": 282,
          "layer": [
            {
              "data": {"name": "res"},
              "mark": {"type": "point", "filled": true, "size": 27, "fill": "#5b4de3", "stroke": "white", "strokeWidth": 0.6, "opacity": 1},
              "encoding": {
                "x": {"field": "e", "type": "quantitative", "scale": {"domain": [-0.378, 2.306], "nice": false, "zero": false}, "axis": {"values": [0, 0.5, 1, 1.5, 2], "format": ".1f", "title": "Entropy", "titlePadding": 3}},
                "y": {"field": "v", "type": "quantitative", "scale": {"domain": [-0.106, 1.108], "nice": false, "zero": false}, "axis": {"values": [0, 0.2, 0.4, 0.6, 0.8, 1], "format": ".1f", "title": "Action variance", "titlePadding": 4}}
              }
            },
            {
              "data": {"name": "resFlag"},
              "mark": {"type": "point", "filled": true, "size": 27, "stroke": "white", "strokeWidth": 0.6, "opacity": 1},
              "encoding": {
                "x": {"field": "e", "type": "quantitative", "scale": {"domain": [-0.378, 2.306], "nice": false, "zero": false}},
                "y": {"field": "v", "type": "quantitative", "scale": {"domain": [-0.106, 1.108], "nice": false, "zero": false}},
                "fill": {"field": "kind", "type": "nominal", "scale": {"domain": ["variance", "entropy"], "range": ["#4fd35b", "#e0524c"]}, "legend": null}
              }
            },
            {
              "data": {"name": "resBox"},
              "mark": {"type": "rect", "fillOpacity": 0, "strokeWidth": 1, "strokeDash": [3, 2]},
              "encoding": {
                "x": {"field": "e", "type": "quantitative", "scale": {"domain": [-0.378, 2.306], "nice": false, "zero": false}},
                "x2": {"field": "e2"},
                "y": {"field": "v", "type": "quantitative", "scale": {"domain": [-0.106, 1.108], "nice": false, "zero": false}},
                "y2": {"field": "v2"},
                "stroke": {"field": "kind", "type": "nominal", "scale": {"domain": ["variance", "entropy"], "range": ["#5cdb5c", "#e45a55"]}, "legend": null}
              }
            }
          ]
        },
        {
          "width": 47, "height": 282,
          "data": {"name": "resSide"},
          "mark": {"type": "area", "orient": "horizontal", "interpolate": "monotone", "fill": "#1f77b4", "fillOpacity": 0.25, "stroke": "#1f77b4", "strokeWidth": 1},
          "encoding": {
            "y": {"field": "v", "type": "quantitative", "scale": {"domain": [-0.106, 1.108], "nice": false, "zero": false}, "axis": {"values": [0, 0.2, 0.4, 0.6, 0.8, 1], "labels": false, "title": null}},
            "x": {"field": "d", "type": "quantitative", "scale": {"domain": [0, 1.044], "nice": false}, "axis": null}
          }
        }
      ]
    },
    {
      "title": {"text": "(c) Xception Mini", "orient": "bottom", "anchor": "middle", "offset": 16, "dx": 24},
      "columns": 2, "align": "each", "bounds": "full",
      "spacing": {"row": 6, "column": 5},
      "concat": [
        {
          "width": 277, "height": 50,
          "data": {"name": "xcpTop"},
          "mark": {"type": "area", "interpolate": "monotone", "fill": "#1f77b4", "fillOpacity": 0.25, "stroke": "#1f77b4", "strokeWidth": 1},
          "encoding": {
            "x": {"field": "e", "type": "quantitative", "scale": {"domain": [-0.349, 2.306], "nice": false, "zero": false}, "axis": {"values": [0, 0.5, 1, 1.5, 2], "labels": false, "title": null, "domainColor": "#808080", "domainWidth": 1.5}},
            "y": {"field": "d", "type": "quantitative", "scale": {"domain": [0, 1.087], "nice": false}, "axis": null}
          }
        },
        {"width": 1, "height": 1, "data": {"values": []}, "mark": "point"},
        {
          "width": 277, "height": 282,
          "layer": [
            {
              "data": {"name": "xcp"},
              "mark": {"type": "point", "filled": true, "size": 27, "fill": "#5b4de3", "stroke": "white", "strokeWidth": 0.6, "opacity": 1},
              "encoding": {
                "x": {"field": "e", "type": "quantitative", "scale": {"domain": [-0.349, 2.306], "nice": false, "zero": false}, "axis": {"values": [0, 0.5, 1, 1.5, 2], "format": ".1f", "title": "Entropy", "titlePadding": 3}},
                "y": {"field": "v", "type": "quantitative", "scale": {"domain": [-0.12, 1.122], "nice": false, "zero": false}, "axis": {"values": [0, 0.2, 0.4, 0.6, 0.8, 1], "format": ".1f", "title": "Action variance", "titlePadding": 4}}
              }
            },
            {
              "data": {"name": "xcpFlag"},
              "mark": {"type": "point", "filled": true, "size": 27, "stroke": "white", "strokeWidth": 0.6, "opacity": 1},
              "encoding": {
                "x": {"field": "e", "type": "quantitative", "scale": {"domain": [-0.349, 2.306], "nice": false, "zero": false}},
                "y": {"field": "v", "type": "quantitative", "scale": {"domain": [-0.12, 1.122], "nice": false, "zero": false}},
                "fill": {"field": "kind", "type": "nominal", "scale": {"domain": ["variance", "entropy"], "range": ["#4fd35b", "#e0524c"]}, "legend": null}
              }
            },
            {
              "data": {"name": "xcpBox"},
              "mark": {"type": "rect", "fillOpacity": 0, "strokeWidth": 1, "strokeDash": [3, 2]},
              "encoding": {
                "x": {"field": "e", "type": "quantitative", "scale": {"domain": [-0.349, 2.306], "nice": false, "zero": false}},
                "x2": {"field": "e2"},
                "y": {"field": "v", "type": "quantitative", "scale": {"domain": [-0.12, 1.122], "nice": false, "zero": false}},
                "y2": {"field": "v2"},
                "stroke": {"field": "kind", "type": "nominal", "scale": {"domain": ["variance", "entropy"], "range": ["#5cdb5c", "#e45a55"]}, "legend": null}
              }
            }
          ]
        },
        {
          "width": 41, "height": 282,
          "data": {"name": "xcpSide"},
          "mark": {"type": "area", "orient": "horizontal", "interpolate": "monotone", "clip": true, "fill": "#1f77b4", "fillOpacity": 0.25, "stroke": "#1f77b4", "strokeWidth": 1},
          "encoding": {
            "y": {"field": "v", "type": "quantitative", "scale": {"domain": [-0.12, 1.122], "nice": false, "zero": false}, "axis": {"values": [0, 0.2, 0.4, 0.6, 0.8, 1], "labels": false, "title": null}},
            "x": {"field": "d", "type": "quantitative", "scale": {"domain": [0, 0.911], "nice": false}, "axis": null}
          }
        }
      ]
    }
  ]
}
